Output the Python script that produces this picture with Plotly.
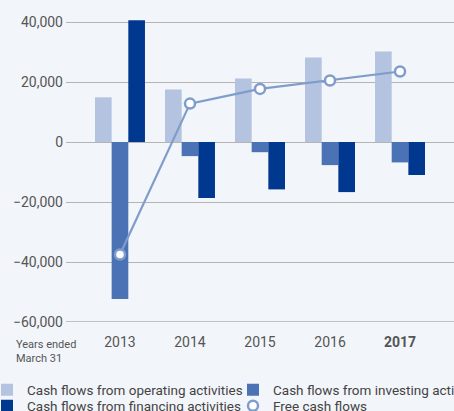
import plotly.graph_objects as go

years = ["2013", "2014", "2015", "2016", "2017"]
year_labels = ["2013", "2014", "2015", "2016", "<b>2017</b>"]
operating = [14900, 17500, 21200, 28200, 30200]
investing = [-52300, -4700, -3400, -7700, -6800]
financing = [40600, -18700, -15800, -16700, -11000]
free_cf = [-37500, 12800, 17700, 20500, 23500]
y_ticks = [40000, 20000, 0, -20000, -40000, -60000]

C_OP = "#b3c3e0"
C_INV = "#4b72b5"
C_FIN = "#00378f"
C_FCF = "#7f9ccb"
BG = "#f2f5fa"
TXT = "#555555"
FONT = "Roboto"

W, H = 454, 411
ML, MR, MT, MB = 66, 0, 10, 89
PW, PH = W - ML - MR, H - MT - MB

def px_x(X):
    return (X - ML) / PW

def px_y(Y):
    return (H - MB - Y) / PH

fig = go.Figure()
fig.add_trace(go.Bar(x=years, y=operating, name="Cash flows from operating activities",
                     marker=dict(color=C_OP, line=dict(width=0)), legend="legend"))
fig.add_trace(go.Bar(x=years, y=investing, name="Cash flows from investing activities",
                     marker=dict(color=C_INV, line=dict(width=0)), legend="legend2"))
fig.add_trace(go.Bar(x=years, y=financing, name="Cash flows from financing activities",
                     marker=dict(color=C_FIN, line=dict(width=0)), legend="legend3"))
fig.add_trace(go.Scatter(x=years, y=free_cf, mode="lines+markers", name="Free cash flows",
                         line=dict(color=C_FCF, width=2.2),
                         marker=dict(symbol="circle", size=10, color="white",
                                     line=dict(color=C_FCF, width=2.5)),
                         showlegend=False))
fig.add_trace(go.Scatter(x=[None], y=[None], mode="markers", name="Free cash flows",
                         marker=dict(symbol="circle", size=10, color="white",
                                     line=dict(color=C_FCF, width=2.5)),
                         legend="legend4"))

leg_common = dict(orientation="v", xanchor="left", yanchor="middle",
                  bgcolor="rgba(0,0,0,0)", borderwidth=0,
                  font=dict(family=FONT, size=13.5, color="#444444"))

row1, row2 = 390, 406
col1, col2 = -13, 233

fig.update_layout(
    width=W, height=H,
    margin=dict(l=ML, r=MR, t=MT, b=MB, autoexpand=False),
    paper_bgcolor=BG, plot_bgcolor=BG,
    barmode="group", bargap=0.286, bargroupgap=0,
    font=dict(family=FONT, color=TXT),
    legend=dict(x=px_x(col1), y=px_y(row1), **leg_common),
    legend2=dict(x=px_x(col2), y=px_y(row1), **leg_common),
    legend3=dict(x=px_x(col1), y=px_y(row2), **leg_common),
    legend4=dict(x=px_x(col2), y=px_y(row2), **leg_common),
    xaxis=dict(range=[-0.771, 4.771], tickmode="array", tickvals=years, ticktext=year_labels,
               showgrid=False, zeroline=False, showline=False,
               ticks="outside", ticklen=7, tickcolor="rgba(0,0,0,0)",
               tickfont=dict(family=FONT, size=14, color=TXT)),
    yaxis=dict(range=[-60000, 44000], tickmode="array", tickvals=y_ticks,
               tickformat=",", showgrid=True, gridcolor="#b4b4b4", gridwidth=1,
               zeroline=True, zerolinecolor="#b4b4b4", zerolinewidth=1,
               showline=False, ticks="", ticklabelstandoff=2,
               tickfont=dict(family=FONT, size=14, color=TXT)),
    shapes=[dict(type="line", xref="paper", yref="y", x0=0, x1=1, y0=-60000, y1=-60000,
                 line=dict(color="#8c8c8c", width=1), layer="below")],
    annotations=[dict(text="Years ended<br>March 31", xref="paper", yref="paper",
                      x=px_x(14), y=px_y(336), xanchor="left", yanchor="top",
                      align="left", showarrow=False,
                      font=dict(family=FONT, size=11, color=TXT))],
)

fig.write_html(
    "out.html",
    config={"displayModeBar": False},
    post_script="document.body.style.margin='0';document.body.style.padding='0';"
                "document.body.style.background='" + BG + "';"
                "document.body.style.overflow='hidden';",
)
